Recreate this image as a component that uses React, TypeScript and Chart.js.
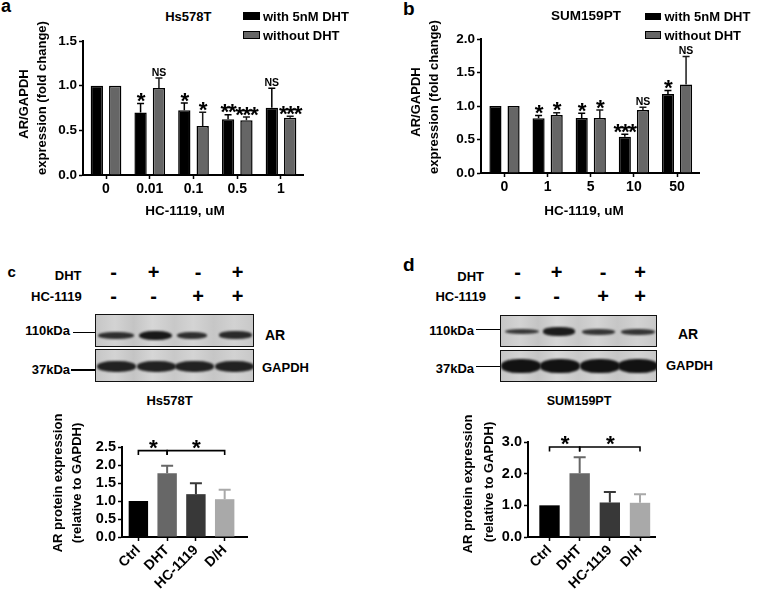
import React, { useEffect, useRef } from "react";
import { Chart, registerables } from "chart.js";
Chart.register(...registerables);

const FONT = '"Liberation Sans", Arial, Helvetica, sans-serif';

// ---------------- data: panel a (Hs578T) ----------------
const aDoses = ["0", "0.01", "0.1", "0.5", "1"];
const aWithDHT = [1.0, 0.7, 0.725, 0.625, 0.752];
const aWithDHTErrTop = [null, 0.8, 0.805, 0.674, 0.972];
const aWithDHTSig = ["", "*", "*", "**", "NS"];
const aWithoutDHT = [1.0, 0.973, 0.548, 0.614, 0.64];
const aWithoutDHTErrTop = [null, 1.085, 0.703, 0.648, 0.659];
const aWithoutDHTSig = ["", "NS", "*", "***", "***"];
const aYTicks = [0, 0.5, 1.0, 1.5];

// ---------------- data: panel b (SUM159PT) ----------------
const bDoses = ["0", "1", "5", "10", "50"];
const bWithDHT = [1.0, 0.817, 0.82, 0.54, 1.178];
const bWithDHTErrTop = [null, 0.857, 0.89, 0.58, 1.23];
const bWithDHTSig = ["", "*", "*", "***", "*"];
const bWithoutDHT = [1.0, 0.866, 0.82, 0.94, 1.32];
const bWithoutDHTErrTop = [null, 0.9, 0.94, 0.98, 1.74];
const bWithoutDHTSig = ["", "*", "*", "NS", "NS"];
const bYTicks = [0, 0.5, 1.0, 1.5, 2.0];

// ---------------- data: panels c / d (western blot quantification) ----------------
const groups = ["Ctrl", "DHT", "HC-1119", "D/H"];
const dhtSigns = ["-", "+", "-", "+"];
const hcSigns = ["-", "-", "+", "+"];
const cValues = [1.0, 1.77, 1.19, 1.05];
const cErrTop = [null, 1.98, 1.49, 1.31];
const cYTicks = [0, 0.5, 1.0, 1.5, 2.0, 2.5];
const cBracketLevel = 2.4;
const dValues = [1.0, 2.01, 1.09, 1.08];
const dErrTop = [null, 2.52, 1.42, 1.35];
const dYTicks = [0, 1.0, 2.0, 3.0];
const dBracketLevel = 2.84;
const bracketPairs = [
  [0, 1],
  [1, 3],
];
const bracketLabel = "*";
const groupColors = ["#000000", "#676767", "#383838", "#a9a9a9"];

type PanelCfg = {
  l: number;
  t: number;
  r: number;
  b: number;
  padL: number;
  padT: number;
  padR: number;
  padB: number;
  xMin: number;
  xMax: number;
  cats: string[];
  yMax: number;
  yTicks: number[];
  makeDatasets: () => any[];
  yFont: number;
  xFont: number;
  rotate: number;
  cap: number;
  errWidth: number;
  axisWidth: number;
  xTickLen: number;
  xPad: number;
  bracket?: { level: number; pairs: number[][]; label: string };
};

const STAR = 22.5;

function drawStars(ctx: any, text: string, x: number, baseline: number) {
  ctx.save();
  ctx.fillStyle = "#000";
  ctx.font = `bold ${STAR}px ${FONT}`;
  ctx.textAlign = "left";
  ctx.textBaseline = "alphabetic";
  const adv = 7.4;
  const glyph = ctx.measureText("*").width;
  const total = adv * (text.length - 1) + glyph;
  let x0 = x - total / 2 + 0.5;
  for (let k = 0; k < text.length; k++) {
    ctx.fillText("*", x0 + k * adv, baseline);
  }
  ctx.restore();
}

function BarPanel({ cfg }: { cfg: PanelCfg }) {
  const ref = useRef<HTMLCanvasElement | null>(null);
  const w = cfg.r - cfg.l + cfg.padL + cfg.padR;
  const h = cfg.b - cfg.t + cfg.padT + cfg.padB;
  useEffect(() => {
    const canvas = ref.current;
    if (!canvas) return;
    const errPlugin = {
      id: "errSig",
      afterDatasetsDraw(chart: any) {
        const ctx = chart.ctx;
        const ys = chart.scales.y;
        const xs = chart.scales.x;
        chart.data.datasets.forEach((ds: any, di: number) => {
          const meta = chart.getDatasetMeta(di);
          meta.data.forEach((bar: any, i: number) => {
            const top = ds.errorTops ? ds.errorTops[i] : null;
            let yTop = bar.y;
            if (top != null) {
              yTop = ys.getPixelForValue(top);
              const col = Array.isArray(ds.errorColor) ? ds.errorColor[i] : ds.errorColor;
              ctx.save();
              ctx.strokeStyle = col;
              ctx.lineWidth = cfg.errWidth;
              ctx.beginPath();
              ctx.moveTo(bar.x, bar.y);
              ctx.lineTo(bar.x, yTop);
              ctx.moveTo(bar.x - cfg.cap / 2, yTop);
              ctx.lineTo(bar.x + cfg.cap / 2, yTop);
              ctx.stroke();
              ctx.restore();
            }
            const lab = ds.sigLabels ? ds.sigLabels[i] : "";
            if (lab) {
              if (lab.startsWith("*")) {
                drawStars(ctx, lab, bar.x, yTop + 4.5);
              } else {
                ctx.save();
                ctx.fillStyle = "#000";
                ctx.textAlign = "center";
                ctx.textBaseline = "alphabetic";
                ctx.font = `bold 10.5px ${FONT}`;
                ctx.fillText(lab, bar.x, yTop - 2.5);
                ctx.restore();
              }
            }
          });
        });
        if (cfg.bracket) {
          const yy = ys.getPixelForValue(cfg.bracket.level);
          ctx.save();
          ctx.strokeStyle = "#000";
          ctx.lineWidth = 1.6;
          cfg.bracket.pairs.forEach(([a, b2]) => {
            const x1 = xs.getPixelForValue(a);
            const x2 = xs.getPixelForValue(b2);
            ctx.beginPath();
            ctx.moveTo(x1, yy + 4.5);
            ctx.lineTo(x1, yy);
            ctx.lineTo(x2, yy);
            ctx.lineTo(x2, yy + 4.5);
            ctx.stroke();
            drawStars(ctx, cfg.bracket!.label, (x1 + x2) / 2, yy + 4);
          });
          ctx.restore();
        }
      },
    };
    const chart = new Chart(canvas, {
      type: "bar",
      data: { datasets: cfg.makeDatasets() },
      options: {
        animation: false,
        responsive: false,
        devicePixelRatio: 1,
        events: [],
        layout: { padding: { left: 0, top: cfg.padT, right: cfg.padR, bottom: 0 } },
        plugins: { legend: { display: false }, tooltip: { enabled: false }, title: { display: false } },
        scales: {
          x: {
            type: "linear",
            min: cfg.xMin,
            max: cfg.xMax,
            offset: false,
            grid: {
              offset: false,
              drawOnChartArea: false,
              drawTicks: true,
              tickLength: cfg.xTickLen,
              tickWidth: 1.5,
              tickColor: "#000",
            },
            border: { display: true, color: "#000", width: cfg.axisWidth },
            ticks: {
              color: "#000",
              font: { family: FONT, size: cfg.xFont, weight: "bold" },
              padding: cfg.xPad,
              autoSkip: false,
              minRotation: cfg.rotate,
              maxRotation: cfg.rotate,
              callback: (v: any) => cfg.cats[Math.round(Number(v))] ?? "",
            },
            afterBuildTicks: (s: any) => {
              s.ticks = cfg.cats.map((_, i) => ({ value: i }));
            },
            afterFit: (s: any) => {
              s.height = cfg.padB;
            },
          },
          y: {
            type: "linear",
            min: 0,
            max: cfg.yMax,
            grid: {
              drawOnChartArea: false,
              drawTicks: true,
              tickLength: 4,
              tickWidth: 1.5,
              tickColor: "#000",
            },
            border: { display: true, color: "#000", width: cfg.axisWidth },
            ticks: {
              color: "#000",
              font: { family: FONT, size: cfg.yFont, weight: "bold" },
              padding: 2,
              autoSkip: false,
              callback: (v: any) => Number(v).toFixed(1),
            },
            afterBuildTicks: (s: any) => {
              s.ticks = cfg.yTicks.map((v) => ({ value: v }));
            },
            afterFit: (s: any) => {
              s.width = cfg.padL;
            },
          },
        },
      } as any,
      plugins: [errPlugin],
    });
    return () => chart.destroy();
  }, []);
  return (
    <canvas
      ref={ref}
      width={w}
      height={h}
      style={{ position: "absolute", left: cfg.l - cfg.padL, top: cfg.t - cfg.padT, width: w, height: h }}
    />
  );
}

const pairedDatasets = (
  withV: number[],
  withErr: (number | null)[],
  withSig: string[],
  woV: number[],
  woErr: (number | null)[],
  woSig: string[]
) => () => [
  {
    label: "with 5nM DHT",
    data: withV.map((v, i) => ({ x: i, y: v })),
    backgroundColor: "#000000",
    borderColor: "#000000",
    borderWidth: 1.5,
    categoryPercentage: 0.84,
    barPercentage: 0.67,
    errorTops: withErr,
    sigLabels: withSig,
    errorColor: "#000000",
  },
  {
    label: "without DHT",
    data: woV.map((v, i) => ({ x: i, y: v })),
    backgroundColor: "#666666",
    borderColor: "#000000",
    borderWidth: 1.5,
    categoryPercentage: 0.84,
    barPercentage: 0.67,
    errorTops: woErr,
    sigLabels: woSig,
    errorColor: "#1a1a1a",
  },
];

const singleDataset = (vals: number[], errs: (number | null)[]) => () => [
  {
    label: "AR protein expression",
    data: vals.map((v, i) => ({ x: i, y: v })),
    backgroundColor: groupColors,
    borderWidth: 0,
    categoryPercentage: 1,
    barPercentage: 0.675,
    errorTops: errs,
    errorColor: groupColors,
  },
];

const cfgA: PanelCfg = {
  l: 83, t: 41, r: 303, b: 175, padL: 60, padT: 14, padR: 10, padB: 30,
  xMin: -0.526, xMax: 4.503, cats: aDoses, yMax: 1.5, yTicks: aYTicks,
  makeDatasets: pairedDatasets(aWithDHT, aWithDHTErrTop, aWithDHTSig, aWithoutDHT, aWithoutDHTErrTop, aWithoutDHTSig),
  yFont: 13.5, xFont: 14, rotate: 0, cap: 7, errWidth: 1.5, axisWidth: 2, xTickLen: 4, xPad: 2,
};
const cfgB: PanelCfg = {
  l: 481, t: 39, r: 699, b: 173, padL: 60, padT: 14, padR: 10, padB: 30,
  xMin: -0.545, xMax: 4.51, cats: bDoses, yMax: 2.0, yTicks: bYTicks,
  makeDatasets: pairedDatasets(bWithDHT, bWithDHTErrTop, bWithDHTSig, bWithoutDHT, bWithoutDHTErrTop, bWithoutDHTSig),
  yFont: 13.5, xFont: 14, rotate: 0, cap: 7, errWidth: 1.5, axisWidth: 2, xTickLen: 4, xPad: 2,
};
const cfgC: PanelCfg = {
  l: 122, t: 447, r: 247, b: 537, padL: 60, padT: 16, padR: 8, padB: 60,
  xMin: -0.569, xMax: 3.776, cats: groups, yMax: 2.5, yTicks: cYTicks,
  makeDatasets: singleDataset(cValues, cErrTop),
  yFont: 14.5, xFont: 14, rotate: 45, cap: 12, errWidth: 2, axisWidth: 2, xTickLen: 4, xPad: 1,
  bracket: { level: cBracketLevel, pairs: bracketPairs, label: bracketLabel },
};
const cfgD: PanelCfg = {
  l: 528, t: 442, r: 655, b: 537, padL: 60, padT: 16, padR: 8, padB: 60,
  xMin: -0.713, xMax: 3.497, cats: groups, yMax: 3.0, yTicks: dYTicks,
  makeDatasets: singleDataset(dValues, dErrTop),
  yFont: 14.5, xFont: 14, rotate: 45, cap: 12, errWidth: 2, axisWidth: 2, xTickLen: 4, xPad: 1,
  bracket: { level: dBracketLevel, pairs: bracketPairs, label: bracketLabel },
};

function Txt({
  x, y, text, size = 13, align = "center", rot = 0,
}: { x: number; y: number; text: string; size?: number; align?: string; rot?: number }) {
  const tx = align === "center" ? "-50%" : align === "right" ? "-100%" : "0";
  return (
    <div
      style={{
        position: "absolute",
        left: x,
        top: y,
        transform: `translate(${tx},-50%)${rot ? ` rotate(${rot}deg)` : ""}`,
        fontSize: size,
        lineHeight: 1,
        whiteSpace: "nowrap",
        fontWeight: "bold",
      }}
    >
      {text}
    </div>
  );
}

type Band = { cx: number; w: number; h: number; a: number };
function Blot({ x, y, w, h, cy, bands }: { x: number; y: number; w: number; h: number; cy: number; bands: Band[] }) {
  return (
    <div
      style={{
        position: "absolute",
        left: x,
        top: y,
        width: w,
        height: h,
        boxSizing: "border-box",
        border: "1.5px solid #111",
        background:
          "linear-gradient(90deg,#c6c6c6 0%,#d3d3d3 12%,#c4c4c4 24%,#d6d6d6 36%,#c8c8c8 50%,#d4d4d4 62%,#c6c6c6 75%,#d2d2d2 88%,#c8c8c8 100%)",
        overflow: "hidden",
      }}
    >
      {bands.map((b, i) => (
        <div
          key={i}
          style={{
            position: "absolute",
            left: b.cx - x - b.w / 2,
            top: cy - y - b.h / 2,
            width: b.w,
            height: b.h,
            borderRadius: "45%",
            background: `rgba(18,18,18,${b.a})`,
            filter: "blur(1.3px)",
          }}
        />
      ))}
    </div>
  );
}

function Line({ x1, x2, y }: { x1: number; x2: number; y: number }) {
  return <div style={{ position: "absolute", left: x1, top: y - 0.75, width: x2 - x1, height: 1.5, background: "#000" }} />;
}

function Swatch({ x, y, fill }: { x: number; y: number; fill: string }) {
  return (
    <div
      style={{
        position: "absolute",
        left: x,
        top: y,
        width: 16.5,
        height: 7.5,
        boxSizing: "border-box",
        border: "1.5px solid #000",
        background: fill,
      }}
    />
  );
}

export default function App() {
  const colsC = [113.7, 153.5, 198, 237.5];
  const colsD = [517.5, 556.5, 603, 640];
  return (
    <div
      style={{
        position: "fixed",
        left: 0,
        top: 0,
        width: 762,
        height: 602,
        background: "#fff",
        color: "#000",
        fontFamily: FONT,
        overflow: "hidden",
      }}
    >
      <BarPanel cfg={cfgA} />
      <BarPanel cfg={cfgB} />
      <BarPanel cfg={cfgC} />
      <BarPanel cfg={cfgD} />

      {/* panel letters */}
      <Txt x={1} y={6} text="a" size={18} align="left" />
      <Txt x={403} y={7.5} text="b" size={19} align="left" />
      <Txt x={7.5} y={270.5} text="c" size={15} align="left" />
      <Txt x={403} y={264} text="d" size={19} align="left" />

      {/* panel a texts */}
      <Txt x={188.3} y={16} text="Hs578T" />
      <Swatch x={243} y={12} fill="#000" />
      <Swatch x={243} y={31} fill="#666" />
      <Txt x={263} y={16} text="with 5nM DHT" align="left" />
      <Txt x={263} y={35} text="without DHT" align="left" />
      <Txt x={185} y={210.5} text="HC-1119, uM" size={13.5} />
      <Txt x={22.5} y={104} text="AR/GAPDH" rot={-90} />
      <Txt x={40.5} y={97.5} text="expression (fold change)" rot={-90} />

      {/* panel b texts */}
      <Txt x={586} y={16} text="SUM159PT" size={13.5} />
      <Swatch x={644.5} y={12.5} fill="#000" />
      <Swatch x={644.5} y={31} fill="#666" />
      <Txt x={664.5} y={16} text="with 5nM DHT" align="left" />
      <Txt x={664.5} y={34.5} text="without DHT" align="left" />
      <Txt x={584} y={210.5} text="HC-1119, uM" size={13.5} />
      <Txt x={414.5} y={102} text="AR/GAPDH" rot={-90} />
      <Txt x={433} y={97} text="expression (fold change)" rot={-90} />

      {/* panel c treatment table */}
      <Txt x={81.5} y={275} text="DHT" align="right" />
      <Txt x={81.7} y={296} text="HC-1119" align="right" />
      {dhtSigns.map((s, i) => (
        <Txt key={"cd" + i} x={colsC[i]} y={272} text={s} size={20} />
      ))}
      {hcSigns.map((s, i) => (
        <Txt key={"ch" + i} x={colsC[i]} y={295.5} text={s} size={20} />
      ))}

      {/* panel c blots */}
      <Txt x={70} y={330} text="110kDa" align="right" />
      <Line x1={73} x2={95} y={332.7} />
      <Txt x={70} y={369} text="37kDa" align="right" />
      <Line x1={71} x2={95} y={370} />
      <Blot
        x={95}
        y={314}
        w={159}
        h={32.5}
        cy={334.3}
        bands={[
          { cx: 115, w: 36, h: 7, a: 0.85 },
          { cx: 154.5, w: 33, h: 9.5, a: 0.97 },
          { cx: 191, w: 30, h: 7, a: 0.85 },
          { cx: 234.5, w: 33, h: 8, a: 0.88 },
        ]}
      />
      <Blot
        x={95}
        y={349}
        w={159}
        h={33}
        cy={365.5}
        bands={[
          { cx: 115, w: 39, h: 11, a: 0.92 },
          { cx: 155, w: 39, h: 11, a: 0.92 },
          { cx: 193.5, w: 39, h: 11, a: 0.92 },
          { cx: 233.5, w: 39, h: 11, a: 0.92 },
        ]}
      />
      <Txt x={265} y={334.5} text="AR" align="left" size={14} />
      <Txt x={262} y={366.7} text="GAPDH" align="left" />
      <Txt x={169.5} y={400} text="Hs578T" />
      <Txt x={57} y={483} text="AR protein expression" rot={-90} />
      <Txt x={76} y={483} text="(relative to GAPDH)" rot={-90} />

      {/* panel d treatment table */}
      <Txt x={484} y={275.5} text="DHT" align="right" />
      <Txt x={486} y={295.5} text="HC-1119" align="right" />
      {dhtSigns.map((s, i) => (
        <Txt key={"dd" + i} x={colsD[i]} y={271.5} text={s} size={20} />
      ))}
      {hcSigns.map((s, i) => (
        <Txt key={"dh" + i} x={colsD[i]} y={295.5} text={s} size={20} />
      ))}

      {/* panel d blots */}
      <Txt x={474} y={329.5} text="110kDa" align="right" />
      <Line x1={476} x2={500} y={329.3} />
      <Txt x={474} y={367.5} text="37kDa" align="right" />
      <Line x1={476} x2={500} y={366.7} />
      <Blot
        x={500}
        y={315}
        w={157}
        h={32}
        cy={330.5}
        bands={[
          { cx: 521, w: 34, h: 5.5, a: 0.8 },
          { cx: 558, w: 32, h: 8.5, a: 0.95 },
          { cx: 597.5, w: 33, h: 6, a: 0.82 },
          { cx: 636.5, w: 34, h: 6, a: 0.82 },
        ]}
      />
      <Blot
        x={500}
        y={350}
        w={157}
        h={32}
        cy={365}
        bands={[
          { cx: 520, w: 40, h: 14, a: 1 },
          { cx: 559, w: 40, h: 14, a: 1 },
          { cx: 598.5, w: 40, h: 14, a: 1 },
          { cx: 636.5, w: 40, h: 14, a: 1 },
        ]}
      />
      <Txt x={678} y={334} text="AR" align="left" size={14} />
      <Txt x={666} y={365} text="GAPDH" align="left" />
      <Txt x={579} y={400.5} text="SUM159PT" size={12.5} />
      <Txt x={467} y={483.5} text="AR protein expression" rot={-90} />
      <Txt x={488} y={482} text="(relative to GAPDH)" rot={-90} />
    </div>
  );
}
